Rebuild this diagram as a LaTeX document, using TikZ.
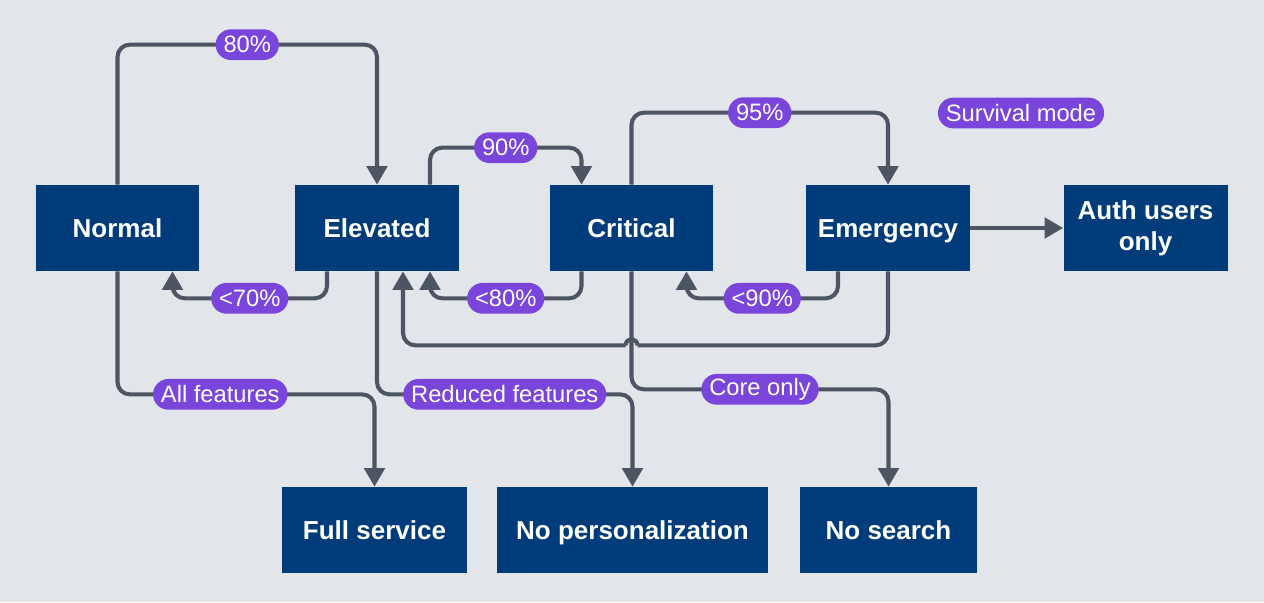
\documentclass[tikz,border=0pt]{standalone}
\usepackage{fontspec}
\setmainfont{Liberation Sans}
\usetikzlibrary{arrows.meta,calc}

\definecolor{bgcol}{HTML}{E2E6EB}
\definecolor{boxblue}{HTML}{003B7A}
\definecolor{tagpurple}{HTML}{7A45DB}
\definecolor{linegray}{HTML}{4D5562}

\tikzset{
  state/.style={fill=boxblue, text=white, font=\fontsize{14.8}{17.5}\selectfont\bfseries,
    minimum width=3.28cm, minimum height=1.72cm, align=center, inner sep=2pt,
    text height=10.6pt, text depth=0pt},
  tag/.style={fill=tagpurple, text=white, font=\fontsize{13.5}{15}\selectfont,
    rounded corners=8.7pt, minimum height=17.5pt, inner xsep=4.5pt, inner ysep=1pt},
  flow/.style={draw=linegray, line width=2.3pt, rounded corners=7pt,
    -{Triangle[width=11.5pt,length=10.5pt]}},
}

\begin{document}
\begin{tikzpicture}[x=0.02cm, y=-0.02cm]
% Background (pixel grid, y pointing down)
\fill[bgcol] (0,0) rectangle (1264,602);
\useasboundingbox (0,0) rectangle (1264,602);

% Load levels
\node[state] (normal)    at (117.5,228)  {Normal};
\node[state] (elevated)  at (377,228)    {Elevated};
\node[state] (critical)  at (631.5,228)  {Critical};
\node[state] (emergency) at (888,228)    {Emergency};
\node[state, text height={}, text depth={}] (auth) at (1145.5,228) {Auth users\\only};

% Service levels
\node[state, minimum width=3.7cm]  (fullsvc)  at (374.5,530) {Full service};
\node[state, minimum width=5.42cm] (nopers)   at (632.5,530) {No personalization};
\node[state, minimum width=3.54cm] (nosearch) at (888.5,530) {No search};

\node[tag] (survival) at (1021,113) {Survival mode};

% Escalation (upper loops)
\draw[flow] (normal.north) -- ++(0,-140) -| node[tag, pos=0.25] {80\%} (elevated.north);
\draw[flow] ($(elevated.north)+(53,0)$) -- ++(0,-37) -| node[tag, pos=0.25] {90\%} ($(critical.north)+(-50,0)$);
\draw[flow] (critical.north) -- ++(0,-72) -| node[tag, pos=0.25] {95\%} (emergency.north);
\draw[flow] (emergency) -- (auth);

% Recovery (lower loops)
\draw[flow] ($(elevated.south)+(-50,0)$) -- ++(0,27) -| node[tag, pos=0.25] {<70\%} ($(normal.south)+(55,0)$);
\draw[flow] ($(critical.south)+(-50,0)$) -- ++(0,27) -| node[tag, pos=0.25] {<80\%} ($(elevated.south)+(53,0)$);
\draw[flow] ($(emergency.south)+(-50,0)$) -- ++(0,27) -| node[tag, pos=0.25] {<90\%} ($(critical.south)+(55,0)$);

% Feature sets
\draw[flow] (normal.south) -- ++(0,123) -| node[tag, pos=0.2] {All features} (fullsvc.north);
\draw[flow] (elevated.south) -- ++(0,123) -| node[tag, pos=0.25] {Reduced features} (nopers.north);
\draw[flow] (critical.south) -- ++(0,118) -| node[tag, pos=0.25] {Core only} (nosearch.north);

% Emergency back to elevated, hopping over the critical line
\path (emergency.south) ++(0,74) coordinate (turn);
\coordinate (hop) at (critical.south |- turn);
\draw[flow, -] (emergency.south) -- (turn) -- ($(hop)+(6,0)$);
\draw[flow, -, sharp corners] ($(hop)+(6,0)$) arc[start angle=0, end angle=180, radius=0.12cm];
\draw[flow] ($(hop)+(-6,0)$) -| ($(elevated.south)+(26,0)$);
\end{tikzpicture}
\end{document}
